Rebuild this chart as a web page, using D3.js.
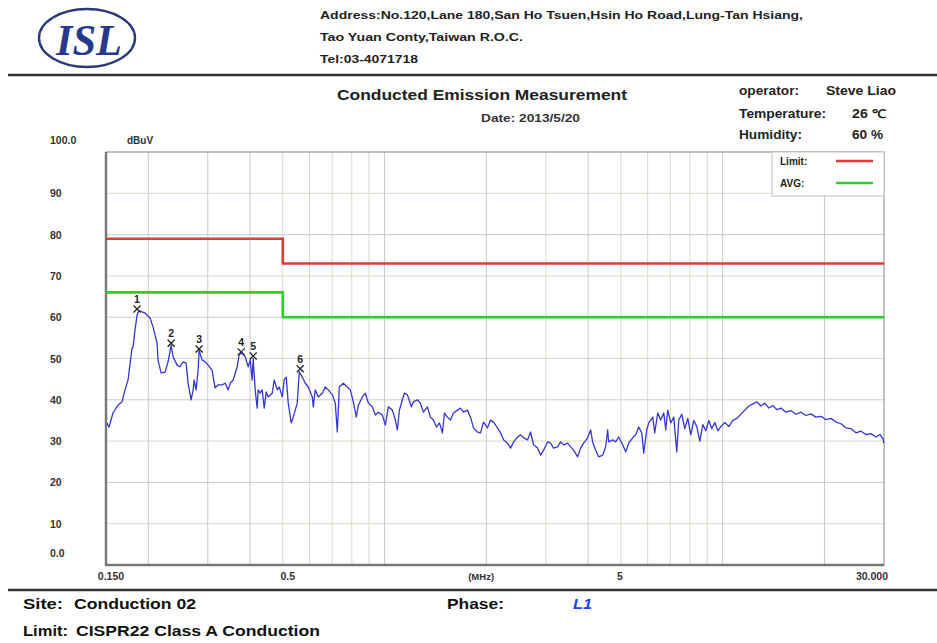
<!DOCTYPE html>
<html>
<head>
<meta charset="utf-8">
<script src="https://cdn.jsdelivr.net/npm/d3@7"></script>
<style>
  body { margin: 0; background: #fff; }
  svg { display: block; }
  text { font-family: "Liberation Sans", Arial, Helvetica, sans-serif; }
</style>
</head>
<body>
<svg id="chart" width="937" height="643"></svg>
<script>
// Measured sweep: frequency (MHz) and level (dBuV)
const freqMHz = [
  0.1510,0.1531,0.1573,0.1628,0.1673,0.1707,0.1743,0.1791,0.1803,0.1828,
  0.1853,0.1879,0.1957,0.2025,0.2067,0.2124,0.2138,0.2183,0.2243,0.2289,
  0.2337,0.2369,0.2434,0.2484,0.2536,0.2588,0.2624,0.2678,0.2715,0.2733,
  0.2771,0.2809,0.2828,0.2887,0.2946,0.3007,0.3090,0.3112,0.3154,0.3219,
  0.3308,0.3377,0.3447,0.3494,0.3566,0.3665,0.3715,0.3792,0.3870,0.3950,
  0.4005,0.4059,0.4087,0.4143,0.4200,0.4229,0.4287,0.4346,0.4406,0.4466,
  0.4527,0.4653,0.4717,0.4814,0.4880,0.4981,0.5049,0.5119,0.5189,0.5296,
  0.5369,0.5517,0.5593,0.5709,0.5827,0.5947,0.6112,0.6154,0.6238,0.6367,
  0.6543,0.6678,0.6816,0.7005,0.7149,0.7248,0.7347,0.7550,0.7759,0.7919,
  0.8083,0.8250,0.8364,0.8595,0.8772,0.8954,0.9201,0.9391,0.9586,0.9851,
  1.0054,1.0262,1.0546,1.0764,1.0912,1.1062,1.1290,1.1445,1.1682,1.2005,
  1.2170,1.2506,1.2765,1.3029,1.3389,1.3666,1.3948,1.4236,1.4530,1.4830,
  1.5034,1.5345,1.5662,1.5986,1.6428,1.6768,1.7115,1.7588,1.7952,1.8323,
  1.8830,1.9219,1.9616,2.0158,2.0575,2.1000,2.1581,2.2027,2.2482,2.3104,
  2.3582,2.4069,2.4735,2.5246,2.5768,2.6480,2.7027,2.7586,2.8349,2.8935,
  2.9533,3.0350,3.0977,3.1617,3.2491,3.3163,3.3848,3.4784,3.5503,3.6237,
  3.7239,3.8009,3.8794,3.9867,4.0691,4.1250,4.2102,4.2973,4.4161,4.5074,
  4.5693,4.6006,4.7278,4.8255,4.9253,5.0615,5.1661,5.2729,5.4187,5.5307,
  5.6450,5.7617,5.8408,5.9615,6.0434,6.2105,6.2958,6.4259,6.5587,6.6943,
  6.7862,6.8794,7.0216,7.1668,7.3149,7.4154,7.5687,7.7251,7.8848,8.0478,
  8.2141,8.3839,8.5572,8.7341,8.9146,9.0989,9.2870,9.4789,9.6749,9.8748,
  10.148,10.428,10.717,11.013,11.317,11.630,11.952,12.282,12.622,12.971,
  13.330,13.698,14.077,14.466,14.866,15.381,15.915,16.467,17.038,17.629,
  18.241,18.874,19.528,20.206,20.907,21.632,22.383,23.159,23.963,24.794,
  25.654,26.544,27.465,28.418,29.204,29.810,30.000
];
const levelDbuV = [
  34.4,33.4,36.8,38.7,39.5,42.4,44.8,52.5,52.8,56.9,
  60.5,61.6,61.0,59.8,57.6,53.7,49.6,46.5,46.7,49.2,
  53.2,50.4,48.4,48.0,49.2,48.9,44.0,40.0,42.4,44.8,
  42.4,47.2,52.0,49.6,49.2,48.4,47.2,45.5,42.9,43.6,
  43.6,44.0,42.4,44.0,44.8,48.0,51.0,51.3,50.4,48.0,
  49.6,44.8,50.0,42.4,38.0,42.4,41.6,42.4,38.0,41.9,
  40.7,41.6,44.8,42.4,43.1,40.7,44.8,45.5,39.2,34.4,
  35.8,39.2,46.8,45.5,44.0,43.1,40.7,38.3,42.4,40.7,
  41.6,43.1,42.4,41.2,39.2,32.2,43.1,44.0,43.1,42.4,
  39.5,35.8,38.7,40.7,41.6,39.2,38.3,36.3,37.0,36.3,
  33.9,38.3,37.5,35.1,32.7,37.5,40.0,41.6,41.2,38.3,
  39.5,40.0,39.2,37.0,38.3,35.8,35.1,33.4,34.4,32.0,
  36.8,35.8,35.1,36.8,37.5,38.0,37.0,37.5,35.8,33.2,
  32.2,32.0,34.6,33.2,35.1,34.6,33.2,32.0,30.3,29.5,
  28.3,29.8,31.0,31.5,30.8,30.3,32.2,29.1,28.3,26.6,
  27.8,29.8,29.5,28.3,28.6,29.8,29.1,29.5,28.6,27.8,
  26.2,28.3,29.5,30.8,32.7,29.8,27.8,26.2,26.6,28.6,
  32.7,29.8,30.3,29.8,31.0,29.1,27.4,29.5,30.8,31.5,
  33.4,32.0,27.1,32.7,34.4,35.8,32.0,36.8,35.1,36.8,
  32.7,37.5,34.4,35.8,27.4,35.1,36.5,33.0,35.5,31.5,
  35.0,33.5,30.0,34.0,32.5,35.0,33.0,34.5,32.5,33.5,
  34.5,33.5,35.0,35.5,36.5,37.5,38.5,39.0,39.5,38.5,
  39.2,38.0,38.6,37.6,38.0,37.0,37.4,36.5,37.0,36.2,
  36.6,35.8,36.0,35.2,35.5,34.6,34.2,33.2,33.0,32.0,
  32.4,31.6,31.8,31.0,31.6,30.5,29.5
];

// CISPR22 Class A limits (quasi-peak and average)
const limitFreq = [0.15, 0.5, 0.5, 30];
const qpLimit   = [79, 79, 73, 73];
const avgLimit  = [66, 66, 60, 60];

// Marked peaks
const markerFreq  = [0.1853, 0.2337, 0.2828, 0.3766, 0.4087, 0.5631];
const markerLevel = [62.0, 53.7, 52.3, 51.6, 50.6, 47.5];
const markerLabel = ["1", "2", "3", "4", "5", "6"];

// Axis ticks
const yTicks      = [0, 10, 20, 30, 40, 50, 60, 70, 80, 90, 100];
const yTickLabels = ["0.0", "10", "20", "30", "40", "50", "60", "70", "80", "90", "100.0"];
const xGridFreq   = [0.2, 0.3, 0.4, 0.5, 0.6, 0.7, 0.8, 0.9, 1, 2, 3, 4, 5, 6, 7, 8, 9, 10, 20];
const xTickFreq   = [0.15, 0.5, 5, 30];
const xTickLabels = ["0.150", "0.5", "5", "30.000"];

const svg = d3.select("#chart");
const plot = { left: 106, right: 884, top: 152, bottom: 565 };

const x = d3.scaleLog().domain([0.15, 30]).range([plot.left, plot.right]);
const y = d3.scaleLinear().domain([0, 100]).range([plot.bottom, plot.top]);

// ---- Header: logo, address, separator ----
svg.append("ellipse")
  .attr("cx", 87).attr("cy", 38).attr("rx", 48).attr("ry", 29)
  .attr("fill", "none").attr("stroke", "#2c3a78").attr("stroke-width", 2.4);
svg.append("text")
  .attr("x", 56).attr("y", 55)
  .attr("textLength", 66).attr("lengthAdjust", "spacingAndGlyphs")
  .style("font-family", "'Liberation Serif', 'DejaVu Serif', serif")
  .style("font-style", "italic").style("font-weight", "700")
  .style("font-size", "44px").attr("fill", "#263a8c")
  .text("ISL");

const address = [
  { t: "Address:No.120,Lane 180,San Ho Tsuen,Hsin Ho Road,Lung-Tan Hsiang,", y: 19, w: 483 },
  { t: "Tao Yuan Conty,Taiwan R.O.C.", y: 41, w: 203 },
  { t: "Tel:03-4071718", y: 63, w: 98 }
];
svg.selectAll("text.addr").data(address).join("text")
  .attr("class", "addr")
  .attr("x", 320).attr("y", d => d.y)
  .attr("textLength", d => d.w).attr("lengthAdjust", "spacingAndGlyphs")
  .style("font-size", "11.5px").style("font-weight", "700").attr("fill", "#222")
  .text(d => d.t);

svg.append("line").attr("x1", 8).attr("x2", 937).attr("y1", 75).attr("y2", 75)
  .attr("stroke", "#333").attr("stroke-width", 2.6);

// ---- Title block ----
svg.append("text").attr("x", 337).attr("y", 100)
  .attr("textLength", 290).attr("lengthAdjust", "spacingAndGlyphs")
  .style("font-size", "15.5px").style("font-weight", "700").attr("fill", "#222")
  .text("Conducted Emission Measurement");
svg.append("text").attr("x", 481).attr("y", 122)
  .attr("textLength", 99).attr("lengthAdjust", "spacingAndGlyphs")
  .style("font-size", "11.5px").style("font-weight", "700").attr("fill", "#333")
  .text("Date: 2013/5/20");

const info = [
  { k: "operator:", kw: 60, v: "Steve Liao", vx: 826, vw: 70, y: 95 },
  { k: "Temperature:", kw: 87, v: "26 \u2103", vx: 852, vw: 34, y: 118 },
  { k: "Humidity:", kw: 63, v: "60 %", vx: 852, vw: 31, y: 139 }
];
const infoG = svg.append("g");
info.forEach(d => {
  infoG.append("text").attr("x", 739).attr("y", d.y)
    .attr("textLength", d.kw).attr("lengthAdjust", "spacingAndGlyphs")
    .style("font-size", "12px").style("font-weight", "700").attr("fill", "#222").text(d.k);
  infoG.append("text").attr("x", d.vx).attr("y", d.y)
    .attr("textLength", d.vw).attr("lengthAdjust", "spacingAndGlyphs")
    .style("font-size", "12px").style("font-weight", "700").attr("fill", "#222").text(d.v);
});

// ---- Grid ----
const grid = svg.append("g");
grid.selectAll("line.h").data(yTicks.slice(1, -1)).join("line")
  .attr("class", "h")
  .attr("x1", plot.left).attr("x2", plot.right)
  .attr("y1", d => y(d)).attr("y2", d => y(d))
  .attr("stroke", d => (d % 20 === 10 ? "#d8d8c6" : "#cbcbcb")).attr("stroke-width", 1);
grid.selectAll("line.v").data(xGridFreq).join("line")
  .attr("class", "v")
  .attr("x1", d => x(d)).attr("x2", d => x(d))
  .attr("y1", plot.top).attr("y2", plot.bottom)
  .attr("stroke", d => ([0.2, 0.3, 0.4, 1, 2, 4, 10, 20].includes(d) ? "#c8c8c8" : "#d9d8c8"))
  .attr("stroke-width", 1);

// ---- Plot frame ----
svg.append("rect")
  .attr("x", plot.left).attr("y", plot.top)
  .attr("width", plot.right - plot.left).attr("height", plot.bottom - plot.top)
  .attr("fill", "none").attr("stroke", "#9a9a9a").attr("stroke-width", 1.2);
svg.append("path")
  .attr("d", `M${plot.left},${plot.top} V${plot.bottom} H${plot.right}`)
  .attr("fill", "none").attr("stroke", "#777").attr("stroke-width", 2.4);

// ---- Y axis labels ----
svg.selectAll("text.yl").data(yTicks).join("text")
  .attr("class", "yl")
  .attr("x", 50)
  .attr("y", d => (d === 0 ? y(d) - 8 : d === 100 ? y(d) - 8 : y(d) + 4))
  .style("font-size", "10.5px").style("font-weight", "700").attr("fill", "#333")
  .text((d, i) => yTickLabels[i]);
svg.append("text").attr("x", 127).attr("y", y(100) - 8)
  .style("font-size", "10px").style("font-weight", "700").attr("fill", "#333")
  .text("dBuV");

// ---- X axis labels ----
const xOffsets = [5, 5, -1, -12];
svg.selectAll("text.xl").data(xTickFreq).join("text")
  .attr("class", "xl")
  .attr("x", (d, i) => x(d) + xOffsets[i])
  .attr("y", 580)
  .attr("text-anchor", "middle")
  .style("font-size", "10.5px").style("font-weight", "700").attr("fill", "#333")
  .text((d, i) => xTickLabels[i]);
svg.append("text").attr("x", x(1.93)).attr("y", 580).attr("text-anchor", "middle")
  .style("font-size", "9.5px").style("font-weight", "700").attr("fill", "#333")
  .text("(MHz)");

// ---- Limit lines ----
const limitLine = d3.line().x(d => x(d[0])).y(d => y(d[1]));
svg.append("path")
  .attr("d", limitLine(d3.zip(limitFreq, qpLimit)))
  .attr("fill", "none").attr("stroke", "#e23a36").attr("stroke-width", 2.6);
svg.append("path")
  .attr("d", limitLine(d3.zip(limitFreq, avgLimit)))
  .attr("fill", "none").attr("stroke", "#28d028").attr("stroke-width", 2.6);

// ---- Measured trace ----
const trace = d3.line().x(d => x(d[0])).y(d => y(d[1]));
svg.append("path")
  .attr("d", trace(d3.zip(freqMHz, levelDbuV)))
  .attr("fill", "none").attr("stroke", "#3636d4").attr("stroke-width", 1.3)
  .attr("stroke-linejoin", "round");

// ---- Peak markers ----
const mk = svg.append("g");
markerFreq.forEach((f, i) => {
  const cx = x(f), cy = y(markerLevel[i]);
  mk.append("path")
    .attr("d", `M${cx - 3.5},${cy - 3.5} L${cx + 3.5},${cy + 3.5} M${cx + 3.5},${cy - 3.5} L${cx - 3.5},${cy + 3.5}`)
    .attr("stroke", "#222").attr("stroke-width", 1.3).attr("fill", "none");
  mk.append("text").attr("x", cx).attr("y", cy - 6).attr("text-anchor", "middle")
    .style("font-size", "10.5px").style("font-weight", "700").attr("fill", "#222")
    .text(markerLabel[i]);
});

// ---- Legend ----
const lg = svg.append("g");
lg.append("rect").attr("x", 772).attr("y", plot.top).attr("width", plot.right - 772).attr("height", 44)
  .attr("fill", "#fff").attr("stroke", "#c4c4c4").attr("stroke-width", 1);
const legendItems = [
  { label: "Limit:", color: "#e23a36", y: 161 },
  { label: "AVG:", color: "#28d028", y: 183 }
];
legendItems.forEach(d => {
  lg.append("text").attr("x", 780).attr("y", d.y + 4)
    .style("font-size", "10px").style("font-weight", "700").attr("fill", "#222").text(d.label);
  lg.append("line").attr("x1", 836).attr("x2", 873).attr("y1", d.y).attr("y2", d.y)
    .attr("stroke", d.color).attr("stroke-width", 2.6);
});

// ---- Footer ----
svg.append("line").attr("x1", 8).attr("x2", 937).attr("y1", 590).attr("y2", 590)
  .attr("stroke", "#333").attr("stroke-width", 2.6);
const footer = [
  { t: "Site:", x: 23, y: 609, w: 40, c: "#111", it: false },
  { t: "Conduction 02", x: 74, y: 609, w: 122, c: "#111", it: false },
  { t: "Phase:", x: 447, y: 609, w: 57, c: "#111", it: false },
  { t: "L1", x: 573, y: 609, w: 19, c: "#1f3df0", it: true },
  { t: "Limit:", x: 23, y: 636, w: 45, c: "#111", it: false },
  { t: "CISPR22 Class A Conduction", x: 76, y: 636, w: 244, c: "#111", it: false }
];
svg.selectAll("text.ft").data(footer).join("text")
  .attr("class", "ft")
  .attr("x", d => d.x).attr("y", d => d.y)
  .attr("textLength", d => d.w).attr("lengthAdjust", "spacingAndGlyphs")
  .style("font-size", "14.5px").style("font-weight", "700")
  .style("font-style", d => (d.it ? "italic" : "normal"))
  .attr("fill", d => d.c)
  .text(d => d.t);
</script>
</body>
</html>
